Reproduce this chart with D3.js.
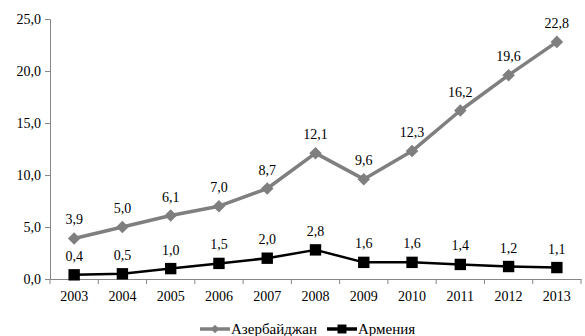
<!doctype html>
<html lang="ru">
  <head>
    <meta charset="utf-8">
    <title>Азербайджан и Армения</title>
    <style>
      * { margin: 0; padding: 0; }
      body { width: 585px; height: 336px; overflow: hidden; background: #fff; }
      svg { display: block; }
      svg text { font-family: "Liberation Serif", "Times New Roman", "DejaVu Serif", serif; }
    </style>
    <script src="https://cdn.jsdelivr.net/npm/d3@7"></script>
  </head>
  <body>
    <svg width="585" height="336"></svg>
    <script>
      // chart data
      const years = ["2003", "2004", "2005", "2006", "2007", "2008", "2009", "2010", "2011", "2012", "2013"];
      const azerbaijan = [3.9, 5.0, 6.1, 7.0, 8.7, 12.1, 9.6, 12.3, 16.2, 19.6, 22.8];
      const armenia = [0.4, 0.5, 1.0, 1.5, 2.0, 2.8, 1.6, 1.6, 1.4, 1.2, 1.1];
      const yTicks = [0, 5, 10, 15, 20, 25];
      const seriesNames = ["Азербайджан", "Армения"];

      const FONT = "'Liberation Serif', 'Times New Roman', serif";
      const svg = d3.select("svg");
      const plot = { left: 50, right: 581, top: 19, bottom: 279 };
      const fmt = v => d3.format(".1f")(v).replace(".", ",");

      const x = d3.scaleBand().domain(years).range([plot.left, plot.right]);
      const y = d3.scaleLinear().domain([0, 25]).range([plot.bottom, plot.top]);

      // axes
      const yAxis = svg.append("g")
          .attr("transform", `translate(${plot.left},0)`)
          .call(d3.axisLeft(y).tickValues(yTicks).tickFormat(fmt).tickSize(5).tickPadding(4));
      const xAxis = svg.append("g")
          .attr("transform", `translate(0,${plot.bottom})`)
          .call(d3.axisBottom(x).tickSize(0).tickPadding(12));

      // x ticks sit on band edges, not centres
      xAxis.selectAll(".edge")
          .data(d3.range(years.length + 1))
          .join("line")
          .attr("class", "edge")
          .attr("x1", i => plot.left + i * x.bandwidth())
          .attr("x2", i => plot.left + i * x.bandwidth())
          .attr("y1", 0).attr("y2", 5)
          .attr("stroke", "#868686");

      [yAxis, xAxis].forEach(a => {
        a.attr("font-family", FONT).attr("font-size", 14);
        a.select(".domain").attr("stroke", "#868686");
        a.selectAll(".tick line").attr("stroke", "#868686");
        a.selectAll("text").attr("fill", "#000");
      });

      const cx = d => x(d) + x.bandwidth() / 2;

      function drawSeries(values, color, width, symbol, size) {
        const g = svg.append("g");
        g.append("path")
          .datum(values)
          .attr("fill", "none")
          .attr("stroke", color)
          .attr("stroke-width", width)
          .attr("stroke-linejoin", "round")
          .attr("d", d3.line().x((v, i) => cx(years[i])).y(v => y(v)));
        g.selectAll(".pt")
          .data(values)
          .join("path")
          .attr("class", "pt")
          .attr("transform", (v, i) => `translate(${cx(years[i])},${y(v)})`)
          .attr("d", d3.symbol().type(symbol).size(size))
          .attr("fill", color);
        g.selectAll(".lbl")
          .data(values)
          .join("text")
          .attr("class", "lbl")
          .attr("x", (v, i) => cx(years[i]))
          .attr("y", v => y(v) - 14)
          .attr("text-anchor", "middle")
          .attr("font-family", FONT)
          .attr("font-size", 14)
          .text(fmt);
      }

      drawSeries(azerbaijan, "#7f7f7f", 3.5, d3.symbolDiamond2, 100);
      drawSeries(armenia, "#000", 2.5, d3.symbolSquare, 130);

      // legend
      const legend = [
        { name: seriesNames[0], color: "#7f7f7f", sym: d3.symbolDiamond2, size: 45, x0: 200 },
        { name: seriesNames[1], color: "#000", sym: d3.symbolSquare, size: 80, x0: 327 }
      ];
      const lg = svg.append("g").selectAll("g").data(legend).join("g")
          .attr("transform", d => `translate(${d.x0},329)`);
      lg.append("line")
        .attr("x1", 0).attr("x2", 30)
        .attr("stroke", d => d.color).attr("stroke-width", 3.5);
      lg.append("path")
        .attr("transform", "translate(15,0)")
        .attr("d", d => d3.symbol().type(d.sym).size(d.size)())
        .attr("fill", d => d.color);
      lg.append("text")
        .attr("x", 31).attr("dy", "0.35em")
        .attr("font-family", FONT)
        .attr("font-size", 15)
        .text(d => d.name);
    </script>
  </body>
</html>
